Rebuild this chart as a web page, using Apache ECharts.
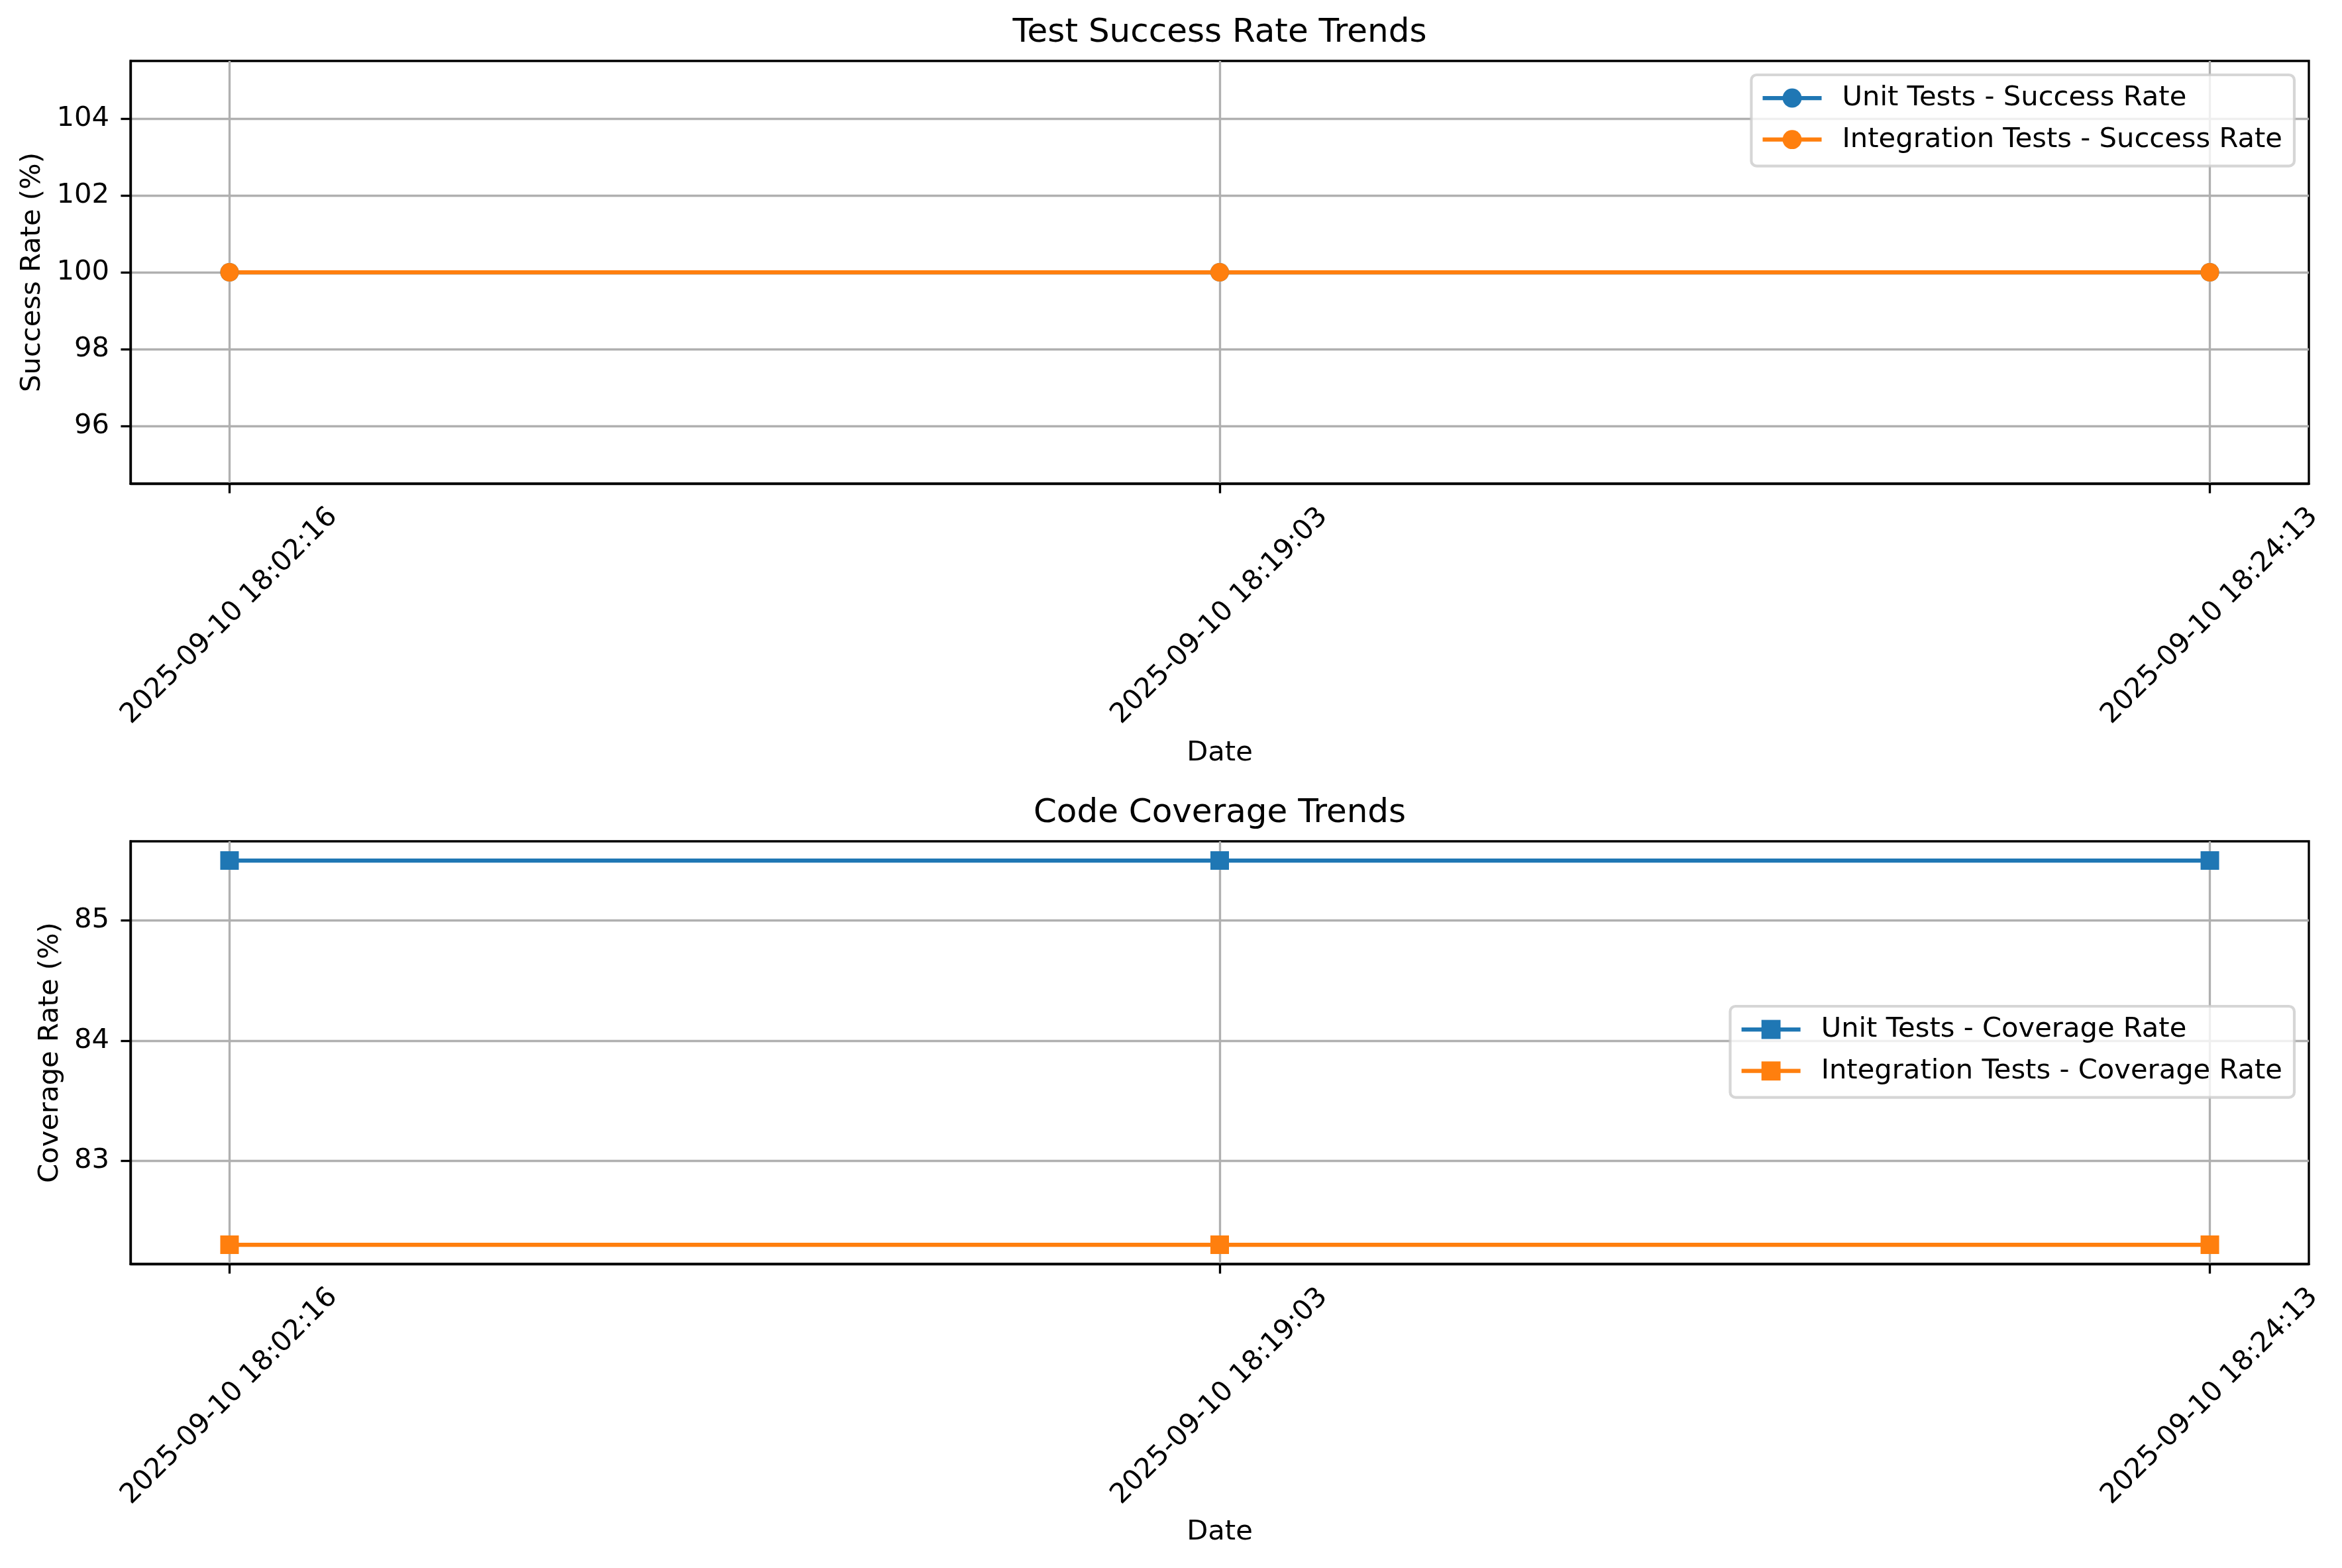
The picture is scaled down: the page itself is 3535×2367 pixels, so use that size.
<!DOCTYPE html>
<html><head><meta charset="utf-8">
<script src="https://cdn.jsdelivr.net/npm/echarts@6/dist/echarts.min.js"></script>
<style>html,body{margin:0;padding:0;background:#fff}#c{width:3535px;height:2367px}</style>
</head><body><div id="c"></div>
<script>
const dates = ['2025-09-10 18:02:16', '2025-09-10 18:19:03', '2025-09-10 18:24:13'];
const unitSuccess = [100, 100, 100];
const integSuccess = [100, 100, 100];
const unitCoverage = [85.5, 85.5, 85.5];
const integCoverage = [82.3, 82.3, 82.3];
const xTicks = [0, 1, 2];
const successTicks = [96, 98, 100, 102, 104];
const coverageTicks = [83, 84, 85];

const FONT = 'DejaVu Sans';
const FS = 41.67;
const LW = 3.33;
const BLUE = '#1f77b4', ORANGE = '#ff7f0e';

function xAxisCfg(gi, gap) {
  return {
    type: 'value', gridIndex: gi, min: -0.1, max: 2.1,
    name: 'Date', nameLocation: 'middle', nameGap: gap, nameMoveOverlap: false,
    nameTextStyle: {fontFamily: FONT, fontSize: FS, color: '#000'},
    axisLine: {show: true, onZero: false, lineStyle: {color: '#000', width: LW}},
    axisTick: {show: true, customValues: xTicks, length: 14.6, lineStyle: {color: '#000', width: LW}},
    axisLabel: {customValues: xTicks, formatter: v => dates[Math.round(v)], rotate: 45,
      align: 'center', verticalAlign: 'middle', margin: 200,
      fontFamily: FONT, fontSize: FS, color: '#000'},
    splitLine: {show: true, lineStyle: {color: '#b0b0b0', width: LW}}
  };
}
function yAxisCfg(gi, mn, mx, ticks, name, gap) {
  return {
    type: 'value', gridIndex: gi, min: mn, max: mx,
    name: name, nameLocation: 'middle', nameGap: gap, nameRotate: 90, nameMoveOverlap: false,
    nameTextStyle: {fontFamily: FONT, fontSize: FS, color: '#000'},
    axisLine: {show: true, onZero: false, lineStyle: {color: '#000', width: LW}},
    axisTick: {show: true, customValues: ticks, length: 14.6, lineStyle: {color: '#000', width: LW}},
    axisLabel: {customValues: ticks, formatter: v => String(v), margin: 32,
      fontFamily: FONT, fontSize: FS, color: '#000'},
    splitLine: {show: true, lineStyle: {color: '#b0b0b0', width: LW}}
  };
}
function lineSeries(name, values, color, symbol, gi) {
  return {
    type: 'line', name: name, xAxisIndex: gi, yAxisIndex: gi,
    data: values.map((v, i) => [xTicks[i], v]),
    symbol: symbol, symbolSize: 28, showAllSymbol: true,
    lineStyle: {color: color, width: 6.25},
    itemStyle: {color: color, borderWidth: 0},
    emphasis: {disabled: true}, animation: false, clip: false
  };
}
function legendCfg(names, top) {
  return {
    data: names, orient: 'vertical', right: 72, top: top,
    padding: [14, 18, 19, 14], itemGap: 20.7, itemWidth: 89, itemHeight: 36,
    backgroundColor: 'rgba(255,255,255,0.8)', borderColor: 'rgba(204,204,204,0.8)',
    borderWidth: 4.2, borderRadius: 8,
    lineStyle: {width: 6.25},
    textStyle: {fontFamily: FONT, fontSize: FS, color: '#000', padding: [0, 0, 0, 26], lineHeight: 42}
  };
}
const titleStyle = {fontFamily: FONT, fontSize: 50, fontWeight: 'normal', color: '#000'};

const chart = echarts.init(document.getElementById('c'), null, {renderer: 'canvas'});
chart.setOption({
  animation: false,
  backgroundColor: '#fff',
  title: [
    {text: 'Test Success Rate Trends', left: 1841, top: 25, textAlign: 'center', padding: 0, textStyle: titleStyle},
    {text: 'Code Coverage Trends', left: 1841, top: 1203, textAlign: 'center', padding: 0, textStyle: titleStyle}
  ],
  grid: [
    {left: 197, top: 92, width: 3288, height: 638, show: true, borderColor: '#000', borderWidth: LW, outerBoundsMode: 'none', containLabel: false},
    {left: 197, top: 1270, width: 3288, height: 638, show: true, borderColor: '#000', borderWidth: LW, outerBoundsMode: 'none', containLabel: false}
  ],
  xAxis: [xAxisCfg(0, 386), xAxisCfg(1, 384)],
  yAxis: [
    yAxisCfg(0, 94.5, 105.5, successTicks, 'Success Rate (%)', 127),
    yAxisCfg(1, 82.14, 85.66, coverageTicks, 'Coverage Rate (%)', 100)
  ],
  legend: [
    legendCfg(['Unit Tests - Success Rate', 'Integration Tests - Success Rate'], 113),
    legendCfg(['Unit Tests - Coverage Rate', 'Integration Tests - Coverage Rate'], 1519)
  ],
  series: [
    lineSeries('Unit Tests - Success Rate', unitSuccess, BLUE, 'circle', 0),
    lineSeries('Integration Tests - Success Rate', integSuccess, ORANGE, 'circle', 0),
    lineSeries('Unit Tests - Coverage Rate', unitCoverage, BLUE, 'rect', 1),
    lineSeries('Integration Tests - Coverage Rate', integCoverage, ORANGE, 'rect', 1)
  ]
});
</script></body></html>
